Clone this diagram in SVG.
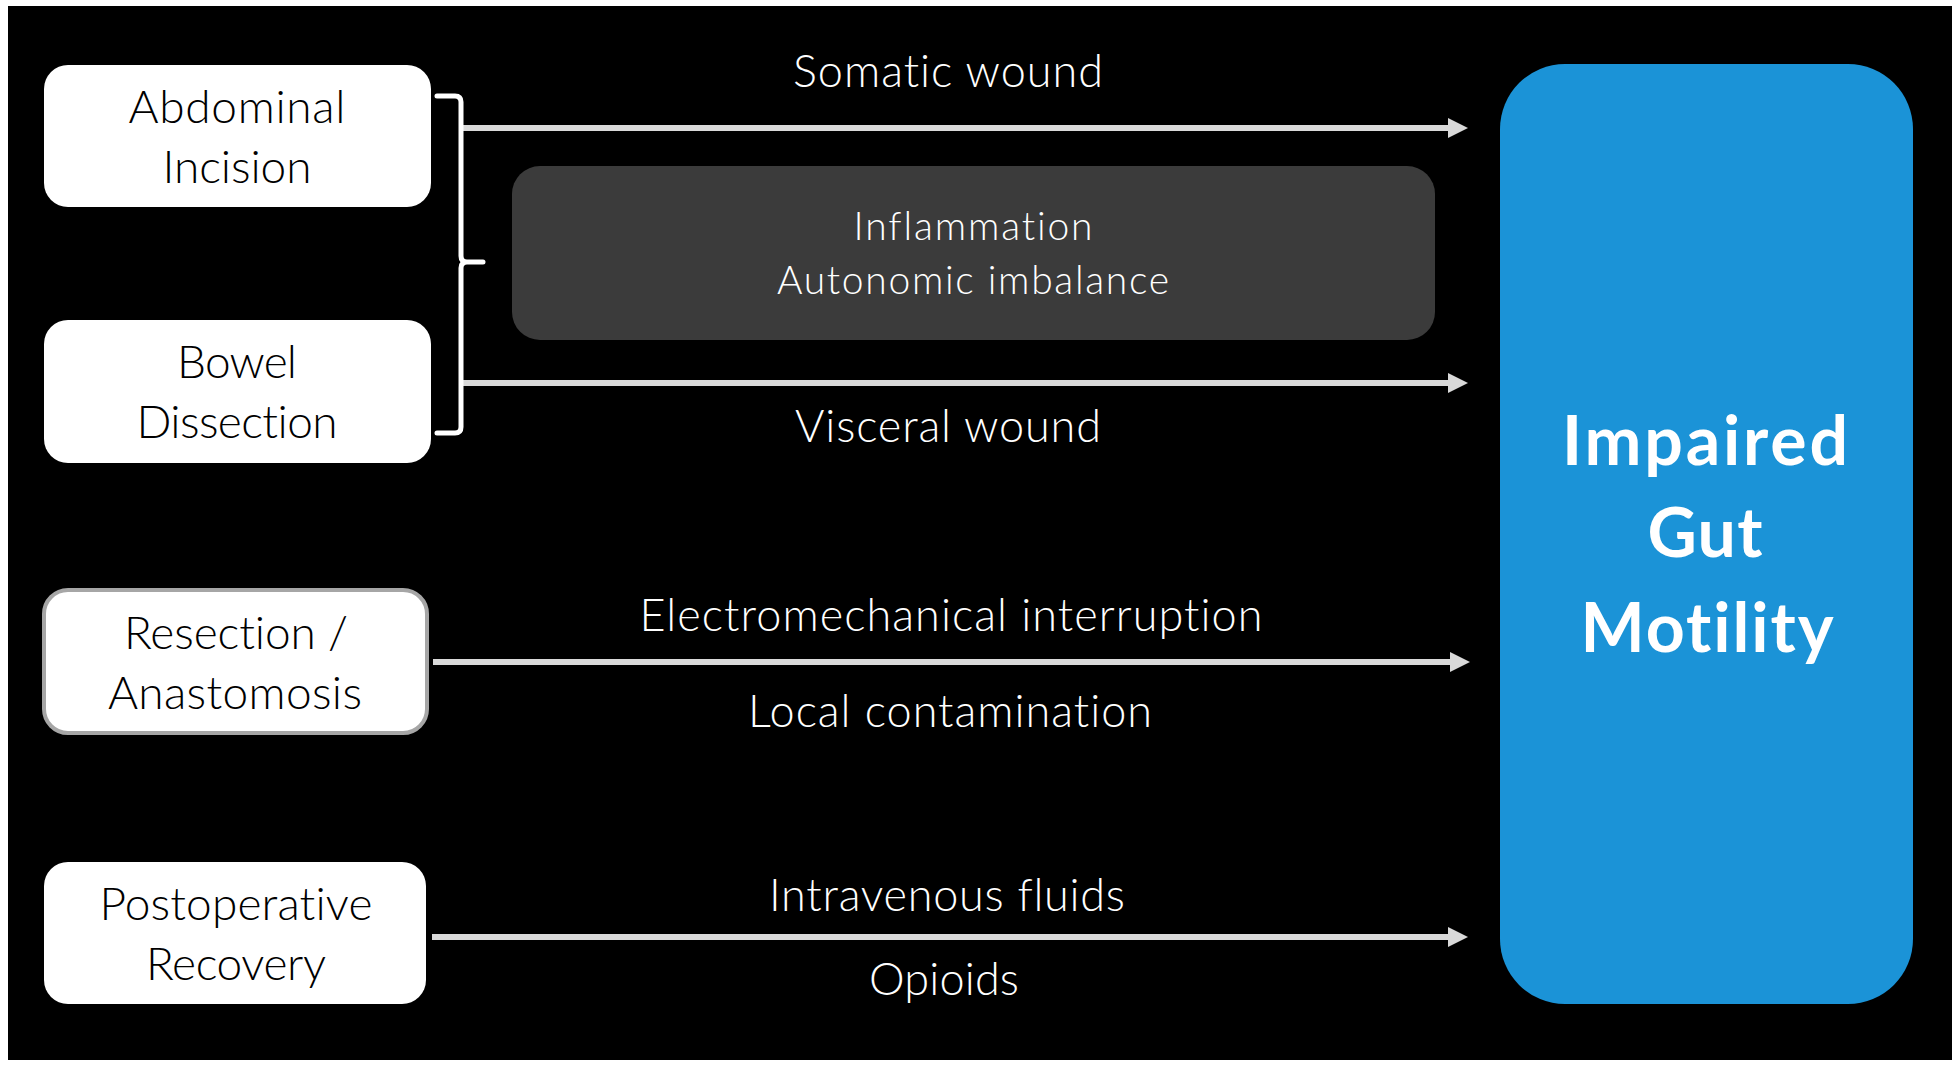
<svg xmlns="http://www.w3.org/2000/svg" width="1959" height="1066" viewBox="0 0 1959 1066">
<style>
text{font-variant-ligatures:none;font-feature-settings:"liga" 0,"clig" 0}
.box{fill:#ffffff}
.lbl{font-family:Lato,"Open Sans","Liberation Sans",sans-serif;font-weight:300;font-size:46px;fill:#000000;text-anchor:middle}
.alb{font-family:Lato,"Open Sans","Liberation Sans",sans-serif;font-weight:300;font-size:45px;fill:#ffffff;text-anchor:middle}
.mid{font-family:Lato,"Open Sans","Liberation Sans",sans-serif;font-weight:300;font-size:39px;fill:#ffffff;text-anchor:middle}
.big{font-family:Lato,"Open Sans","Liberation Sans",sans-serif;font-weight:700;font-size:68px;fill:#ffffff;text-anchor:middle}
.arr{stroke:#d9d9d9;stroke-width:6;fill:none;marker-end:url(#ah)}
</style>
<defs>
<marker id="ah" markerUnits="userSpaceOnUse" markerWidth="20" markerHeight="20" refX="0" refY="10" orient="auto">
<path d="M0,0 L20,10 L0,20 Z" fill="#d9d9d9"/>
</marker>
</defs>
<rect x="0" y="0" width="1959" height="1066" fill="#ffffff"/>
<rect x="8" y="6" width="1944" height="1054" fill="#000000"/>

<g id="connectors">
<path class="arr" d="M463,128 H1448"/>
<path class="arr" d="M463,383 H1448"/>
<path class="arr" d="M433,662 H1450"/>
<path class="arr" d="M432,937 H1448"/>
<path d="M437,96 H455 Q461,96 461,102 V256 Q461,262 467,262 H483 M467,262 Q461,262 461,268 V427 Q461,433 455,433 H437" stroke="#ffffff" stroke-width="5" fill="none" stroke-linecap="round"/>
<text class="alb" x="948" y="87" textLength="310">Somatic wound</text>
<text class="alb" x="948" y="442" textLength="306">Visceral wound</text>
<text class="alb" x="951" y="631" textLength="623">Electromechanical interruption</text>
<text class="alb" x="950" y="727" textLength="404">Local contamination</text>
<text class="alb" x="947" y="911" textLength="356">Intravenous fluids</text>
<text class="alb" x="944" y="995" textLength="150">Opioids</text>
</g>

<g id="abdominal-incision">
<rect class="box" x="44" y="65" width="387" height="142" rx="24"/>
<text class="lbl" x="237" y="123" textLength="217">Abdominal</text>
<text class="lbl" x="237" y="183" textLength="149">Incision</text>
</g>

<g id="bowel-dissection">
<rect class="box" x="44" y="320" width="387" height="143" rx="24"/>
<text class="lbl" x="237" y="378" textLength="120">Bowel</text>
<text class="lbl" x="237" y="438" textLength="201">Dissection</text>
</g>

<g id="resection-anastomosis">
<rect class="box" x="44" y="590" width="383" height="143" rx="24" stroke="#a6a6a6" stroke-width="4"/>
<text class="lbl" x="236" y="649" textLength="224">Resection /</text>
<text class="lbl" x="235" y="709" textLength="254">Anastomosis</text>
</g>

<g id="postoperative-recovery">
<rect class="box" x="44" y="862" width="382" height="142" rx="24"/>
<text class="lbl" x="236" y="920" textLength="273">Postoperative</text>
<text class="lbl" x="236" y="980" textLength="180">Recovery</text>
</g>

<g id="inflammation">
<rect x="512" y="166" width="923" height="174" rx="28" fill="#3b3b3b"/>
<text class="mid" x="973" y="240" textLength="239">Inflammation</text>
<text class="mid" x="973" y="294" textLength="392">Autonomic imbalance</text>
</g>

<g id="impaired-gut-motility">
<rect x="1500" y="64" width="413" height="940" rx="65" fill="#1b93d7"/>
<text class="big" x="1705" y="465" textLength="286">Impaired</text>
<text class="big" x="1705" y="557" textLength="115">Gut</text>
<text class="big" x="1707" y="652" textLength="253">Motility</text>
</g>
</svg>
